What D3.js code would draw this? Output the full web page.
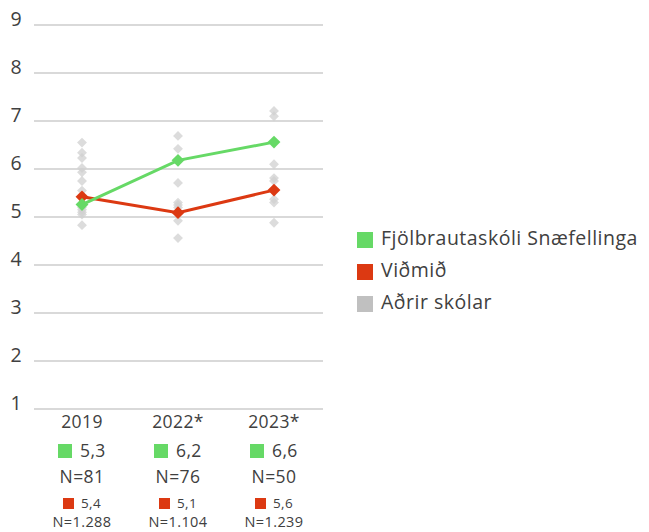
<!DOCTYPE html>
<html>
<head>
<meta charset="utf-8">
<style>
    body { margin: 0; background: #fff; }
    text { font-family: "Open Sans", Lato, sans-serif; fill: #404040; }
</style>
</head>
<body>
<svg id="chart" width="649" height="532"></svg>
<script src="https://cdn.jsdelivr.net/npm/d3@7"></script>
<script>
    // data
    let years = ["2019", "2022*", "2023*"]
    let schoolValues = [5.26, 6.18, 6.56]
    let benchValues = [5.42, 5.09, 5.56]
    let schoolN = ["N=81", "N=76", "N=50"]
    let benchN = ["N=1.288", "N=1.104", "N=1.239"]
    let otherSchools = [
        [6.55, 6.34, 6.23, 6.02, 5.93, 5.75, 5.55, 5.2, 5.15, 5.1, 5.05, 4.83],
        [6.69, 6.42, 6.17, 5.71, 5.3, 5.25, 5.2, 4.92, 4.56],
        [7.21, 7.1, 6.1, 5.81, 5.75, 5.37, 5.3, 4.88]
    ]
    let yTicks = [1, 2, 3, 4, 5, 6, 7, 8, 9]
    let legendLabels = ["Fjölbrautaskóli Snæfellinga", "Viðmið", "Aðrir skólar"]

    let green = "#66d966"
    let red = "#dc3912"
    let grey = "#c0c0c0"

    let svg = d3.select("#chart")

    let xScale = d3.scalePoint()
        .domain(years)
        .range([34, 322])
        .padding(0.5)

    let yScale = d3.scaleLinear()
        .domain([1, 9])
        .range([409, 25])

    let fmt = v => d3.format(".1f")(v).replace(".", ",")

    // gridlines
    svg.append("g")
        .selectAll("line")
        .data(yTicks)
        .join("line")
        .attr("x1", 34)
        .attr("x2", 323)
        .attr("y1", d => yScale(d))
        .attr("y2", d => yScale(d))
        .attr("stroke", "#d9d9d9")
        .attr("stroke-width", 2)

    // y labels
    svg.append("g")
        .selectAll("text")
        .data(yTicks)
        .join("text")
        .attr("x", 16)
        .attr("y", d => yScale(d) - 4)
        .attr("text-anchor", "middle")
        .attr("dominant-baseline", "middle")
        .style("font-size", "19.5px")
        .text(d => d)

    let diamond = d3.symbol().type(d3.symbolDiamond2)

    // other schools
    years.forEach((yr, i) => {
        svg.append("g")
            .selectAll("path")
            .data(otherSchools[i])
            .join("path")
            .attr("d", diamond.size(62)())
            .attr("transform", d => `translate(${xScale(yr)},${yScale(d)})`)
            .attr("fill", "#d0d0d0")
            .attr("opacity", 0.75)
    })

    function drawSeries(values, color) {
        let line = d3.line()
            .x((d, i) => xScale(years[i]))
            .y(d => yScale(d))
        svg.append("path")
            .datum(values)
            .attr("d", line)
            .attr("fill", "none")
            .attr("stroke", color)
            .attr("stroke-width", 3)
        svg.append("g")
            .selectAll("path")
            .data(values)
            .join("path")
            .attr("d", diamond.size(105)())
            .attr("transform", (d, i) => `translate(${xScale(years[i])},${yScale(d)})`)
            .attr("fill", color)
    }
    drawSeries(benchValues, red)
    drawSeries(schoolValues, green)

    // table under the chart
    let table = svg.append("g")
        .style("letter-spacing", "0.4px")
    years.forEach((yr, i) => {
        let cx = xScale(yr)
        let col = table.append("g").attr("transform", `translate(${cx},0)`)
        col.append("text")
            .attr("y", 423).attr("text-anchor", "middle")
            .attr("dominant-baseline", "middle")
            .style("font-size", "17.5px").text(yr)
        col.append("rect")
            .attr("x", -24).attr("y", 444).attr("width", 14).attr("height", 14)
            .attr("fill", green)
        col.append("text")
            .attr("x", -2).attr("y", 452)
            .attr("dominant-baseline", "middle")
            .style("font-size", "17.5px").text(fmt(schoolValues[i]))
        col.append("text")
            .attr("y", 478).attr("text-anchor", "middle")
            .attr("dominant-baseline", "middle")
            .style("font-size", "17.5px").text(schoolN[i])
        col.append("rect")
            .attr("x", -19).attr("y", 498).attr("width", 11).attr("height", 11)
            .attr("fill", red)
        col.append("text")
            .attr("x", -1).attr("y", 504)
            .attr("dominant-baseline", "middle")
            .style("font-size", "13.5px").text(fmt(benchValues[i]))
        col.append("text")
            .attr("y", 523).attr("text-anchor", "middle")
            .attr("dominant-baseline", "middle")
            .style("font-size", "14.5px").text(benchN[i])
    })

    // legend
    let legendColors = [green, red, grey]
    let legend = svg.append("g")
        .selectAll("g")
        .data(legendLabels)
        .join("g")
        .attr("transform", (d, i) => `translate(357,${240 + i * 32})`)
    legend.append("rect")
        .attr("x", 0).attr("y", -8).attr("width", 16).attr("height", 16)
        .attr("fill", (d, i) => legendColors[i])
    legend.append("text")
        .attr("x", 24).attr("y", 0)
        .attr("dominant-baseline", "middle")
        .style("font-size", "19.5px")
        .style("letter-spacing", "0.5px")
        .text(d => d)
</script>
</body>
</html>
